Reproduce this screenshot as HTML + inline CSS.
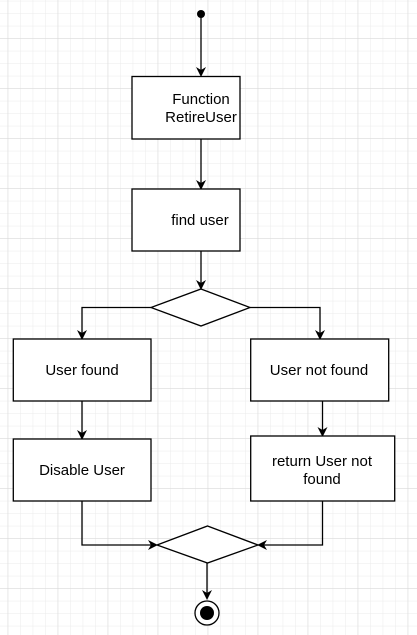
<!DOCTYPE html>
<html><head><style>
html,body{margin:0;padding:0;background:#fff;}
svg{display:block}
text{font-family:"Liberation Sans",Arial,sans-serif;font-size:15px;fill:#000}
</style></head><body>
<svg width="417" height="635" viewBox="0 0 417 635" xmlns="http://www.w3.org/2000/svg">
<defs>
<pattern id="minor" width="12.5" height="12.5" patternUnits="userSpaceOnUse" x="7.7" y="0.8">
<path d="M0 0H12.5M0 0V12.5" stroke="#ebebeb" stroke-width="1" fill="none"/>
</pattern>
<pattern id="major" width="50" height="50" patternUnits="userSpaceOnUse" x="7.7" y="38.3">
<path d="M0 0H50M0 0V50" stroke="#d8d8d8" stroke-width="1" fill="none"/>
</pattern>
<marker id="a" markerWidth="10" markerHeight="10" refX="8" refY="5" orient="auto" markerUnits="userSpaceOnUse">
<path d="M0,0 L10,5 L0,10 L3,5 Z" fill="#000"/>
</marker>
</defs>
<rect width="417" height="635" fill="url(#minor)"/>
<rect width="417" height="635" fill="url(#major)"/>
<g stroke="#000" stroke-width="1.3" fill="none">
<line x1="201" y1="14" x2="201" y2="75" marker-end="url(#a)"/>
<path d="M201 139 Q201 160 201 188" marker-end="url(#a)"/>
<line x1="201" y1="251" x2="201" y2="288" marker-end="url(#a)"/>
<path d="M151 307.5H82V338" marker-end="url(#a)"/>
<path d="M250 307.5H320V338" marker-end="url(#a)"/>
<line x1="82" y1="401" x2="82" y2="438" marker-end="url(#a)"/>
<line x1="322.5" y1="401" x2="322.5" y2="435" marker-end="url(#a)"/>
<path d="M82 501V545H156" marker-end="url(#a)"/>
<path d="M322.5 501V545H259" marker-end="url(#a)"/>
<line x1="207" y1="563" x2="207" y2="598" marker-end="url(#a)"/>
</g>
<circle cx="201" cy="14" r="4" fill="#000"/>
<g stroke="#000" stroke-width="1.3" fill="#fff">
<rect x="132" y="76.5" width="108" height="62.5"/>
<rect x="132" y="189" width="108" height="62"/>
<polygon points="201,289 250,307.5 201,326 151,307.5"/>
<rect x="13.3" y="339" width="137.7" height="62"/>
<rect x="250.7" y="339" width="138" height="62"/>
<rect x="13.3" y="439" width="137.7" height="62"/>
<rect x="250.7" y="436" width="144" height="65"/>
<polygon points="207.5,526 258,545 207.5,563 157,545"/>
<circle cx="207" cy="613" r="12"/>
</g>
<circle cx="207" cy="613" r="7" fill="#000"/>
<text x="201" y="104" text-anchor="middle">Function</text>
<text x="201" y="122" text-anchor="middle">RetireUser</text>
<text x="200" y="225" text-anchor="middle">find user</text>
<text x="82" y="375" text-anchor="middle">User found</text>
<text x="319" y="375" text-anchor="middle">User not found</text>
<text x="82" y="475" text-anchor="middle">Disable User</text>
<text x="322" y="466" text-anchor="middle">return User not</text>
<text x="322" y="484" text-anchor="middle">found</text>
</svg>
</body></html>
